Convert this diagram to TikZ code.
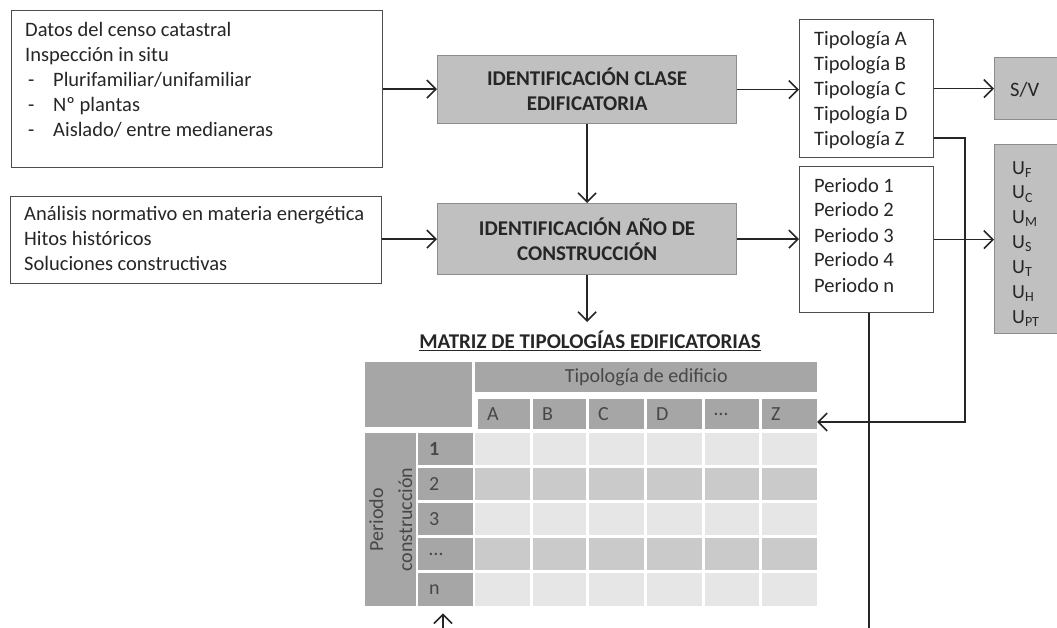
\documentclass[tikz,border=0pt]{standalone}
\usepackage{fontspec}
\setmainfont{Carlito}
\usetikzlibrary{arrows.meta}
\definecolor{txt}{HTML}{262626}
\definecolor{boxgray}{HTML}{C0C0C0}
\definecolor{mgray}{HTML}{A6A6A6}
\definecolor{cellA}{HTML}{E6E6E6}
\definecolor{cellB}{HTML}{CACACA}
\begin{document}
\begin{tikzpicture}[x=1pt,y=-1pt,
  every node/.style={text=txt, font=\fontsize{20.5}{25}\selectfont, inner sep=0pt},
  wbox/.style={draw=black!70, line width=1.2pt, fill=white, anchor=north west},
  gbox/.style={draw=black!45, line width=1.2pt, fill=boxgray, anchor=north west},
  bold/.style={font=\fontsize{21}{25}\selectfont\bfseries, align=center},
  lbl/.style={anchor=base west, align=left},
  conn/.style={draw=black!85, line width=1.7pt, -{Straight Barb[length=9pt,width=18pt,line width=1.6pt]}},
  plain/.style={draw=black!85, line width=1.7pt},
  mtx/.style={font=\fontsize{20}{24}\selectfont, text=black!72},
  ]
\useasboundingbox (0,0) rectangle (1057,628);

% left input boxes (text nodes anchored at the baseline of their last line)
\node[wbox, minimum width=371pt, minimum height=157pt] (b1) at (11,10) {};
\node[lbl] (t1) at (25,137) {Datos del censo catastral\\
Inspección in situ\\
\makebox[28pt][l]{\hspace{3pt}-}Plurifamiliar/unifamiliar\\
\makebox[28pt][l]{\hspace{3pt}-}Nº plantas\\
\makebox[28pt][l]{\hspace{3pt}-}Aislado/ entre medianeras};

\node[wbox, minimum width=371pt, minimum height=87pt] (b2) at (10,196) {};
\node[lbl] (t2) at (24,271) {Análisis normativo en materia energética\\
Hitos históricos\\
Soluciones constructivas};

% grey process boxes
\node[gbox, minimum width=299pt, minimum height=68pt] (g1) at (437,55) {};
\node[bold] (g1t) at (g1.center) {IDENTIFICACIÓN CLASE\\EDIFICATORIA};
\node[gbox, minimum width=299pt, minimum height=71pt] (g2) at (437,203) {};
\node[bold] (g2t) at (g2.center) {IDENTIFICACIÓN AÑO DE\\CONSTRUCCIÓN};

% output boxes
\node[wbox, minimum width=134pt, minimum height=138pt] (tipo) at (799,19) {};
\node[lbl] (tipot) at (814,146) {Tipología A\\Tipología B\\Tipología C\\Tipología D\\Tipología Z};
\node[wbox, minimum width=134pt, minimum height=146pt] (per) at (799,166) {};
\node[lbl] (pert) at (814,292) {Periodo 1\\Periodo 2\\Periodo 3\\Periodo 4\\Periodo n};

\node[gbox, minimum width=80pt, minimum height=62pt] (sv) at (994,57) {};
\node[anchor=west] (svt) at (1010,90) {S/V};
\node[gbox, minimum width=80pt, minimum height=189pt] (ub) at (994,144) {};
\node[lbl, font=\fontsize{20}{24.8}\selectfont] (ut) at (1012,323) {U\textsubscript{F}\\U\textsubscript{C}\\U\textsubscript{M}\\U\textsubscript{S}\\U\textsubscript{T}\\U\textsubscript{H}\\U\textsubscript{PT}};

% matrix title
\node[font=\fontsize{21}{24}\selectfont\bfseries] (title) at (590,341) {\underline{MATRIZ DE TIPOLOGÍAS EDIFICATORIAS}};

% matrix
\fill[mgray] (365,362) rectangle (472,427);
\node[fill=mgray, minimum width=342pt, minimum height=30pt, anchor=north west, mtx] (hdr) at (475,362) {Tipología de edificio};
\foreach \xa/\xb/\xd/\l [count=\i] in {478/530/475/A, 533/586/533/B, 589/644/589/C, 647/702/647/D, 705/759/705/\dots, 762/817/762/Z}{
  \fill[mgray] (\xa,399) rectangle (\xb,429);
  \node[mtx, anchor=west] (col\i) at (\xa+9,414) {\l};
  \foreach \ya/\yb/\c in {433/465/cellA, 468/500/cellB, 503/535/cellA, 538/570/cellB, 573/606/cellA}{
    \fill[\c] (\xd,\ya) rectangle (\xb,\yb);
  }
}
\coordinate (zr) at (817,422);
\node[fill=mgray, minimum width=51pt, minimum height=173pt, anchor=north west] (pblk) at (365,433) {};
\node[mtx, rotate=90, align=center, font=\fontsize{20}{29}\selectfont] (plbl) at (pblk.center) {Periodo\\construcción};
\foreach \ya/\yb/\l [count=\j] in {433/465/\textbf{1}, 468/500/2, 503/535/3, 538/570/\dots, 573/606/n}{
  \node[fill=mgray, minimum width=55pt, minimum height=\yb-\ya, anchor=north west] (r\j) at (418,\ya) {};
  \node[mtx, anchor=west] (rl\j) at (429,{(\ya+\yb)/2}) {\l};
}

% connectors
\draw[conn] (b1.east) -- (b1.east -| g1.west);
\draw[conn] (b2.east |- g2.west) -- (g2.west);
\draw[conn] (g1.south) -- (g2.north);
\draw[conn] (g2.south) -- ([yshift=9pt]g2.south |- title.north);
\draw[conn] (g1.east) -- (g1.east -| tipo.west);
\draw[conn] (g2.east) -- (g2.east -| per.west);
\draw[conn] (tipo.east) -- (tipo.east -| sv.west);
\draw[conn] (per.east) -- (per.east -| ub.west);
\coordinate (zc) at (965,138);
\draw[conn] (tipo.east |- zc) -- (zc) -- (zc |- zr) -- (zr);
\coordinate (pbot) at (869,628);
\draw[plain] (per.south -| pbot) -- (pbot);
\coordinate (nbot) at (443,628);
\draw[conn] (nbot) -- ([yshift=-7pt]r5.south -| nbot);
\end{tikzpicture}
\end{document}
